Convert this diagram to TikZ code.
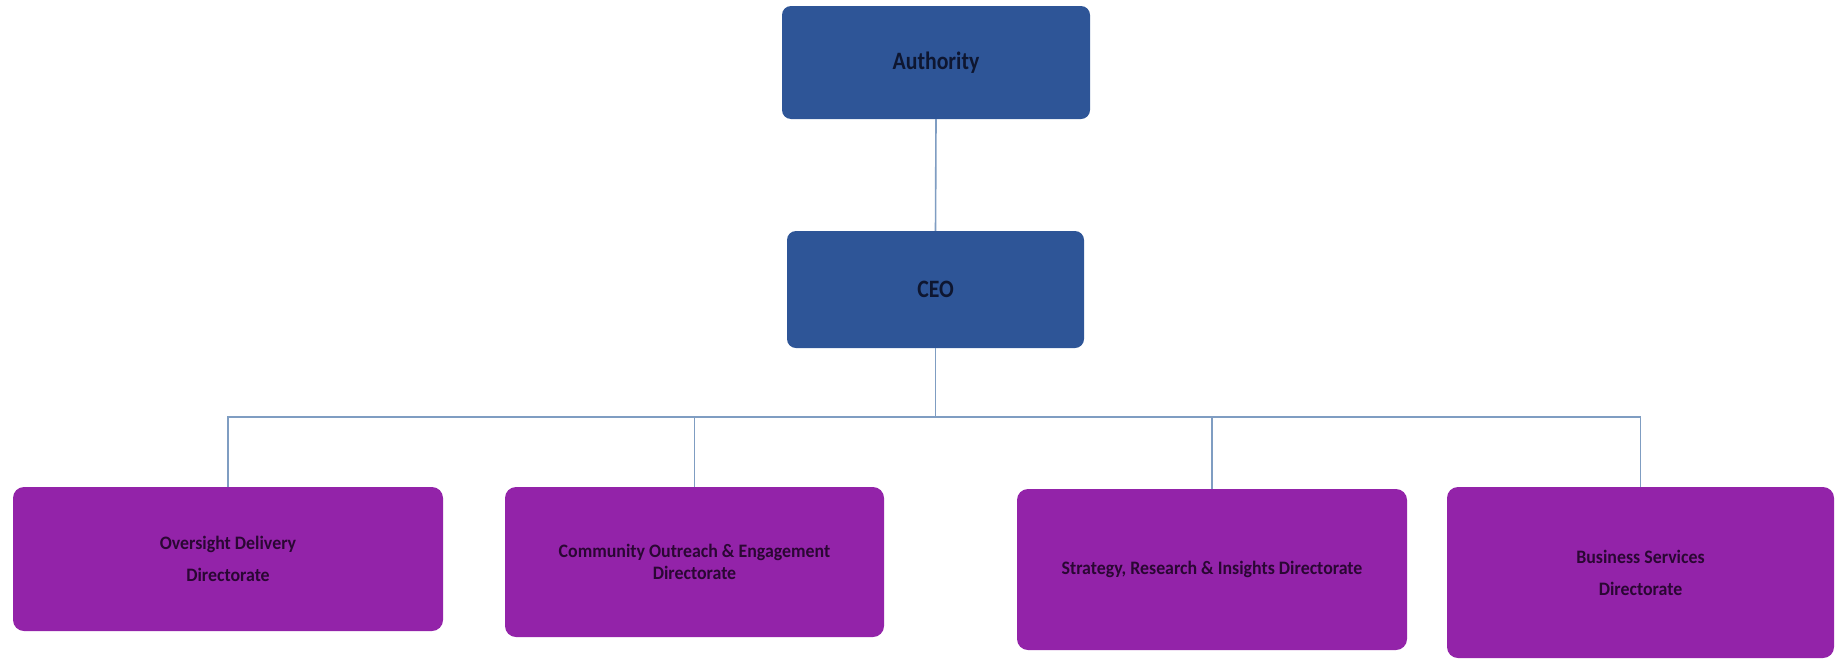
\documentclass[tikz,border=0pt]{standalone}
\usepackage{fontspec}
\setmainfont{Carlito}
\newfontfamily\topfont{Carlito}[FakeStretch=0.87]
\newfontfamily\dirfont{Carlito}[FakeStretch=0.94]
\definecolor{topblue}{HTML}{2E5597}
\definecolor{dirpurple}{HTML}{9323A9}
\definecolor{linkblue}{HTML}{7F9DC2}
\definecolor{toptext}{HTML}{0E1630}
\definecolor{dirtext}{HTML}{2A0733}
\tikzset{
  topbox/.style={fill=topblue, rounded corners=9pt, inner sep=0pt, align=center,
    text=toptext, font=\topfont\fontsize{25}{29}\selectfont\bfseries},
  dirbox/.style={fill=dirpurple, rounded corners=11pt, inner sep=0pt, align=center,
    text=dirtext, font=\dirfont\fontsize{19}{22}\selectfont\bfseries},
  link/.style={draw=linkblue, line width=1.6pt}
}
\begin{document}
\begin{tikzpicture}[x=1pt,y=-1pt]
\useasboundingbox (0,0) rectangle (1838,659);
\node[topbox, minimum width=308pt, minimum height=113pt] (auth) at (936,62.5) {Authority};
\node[topbox, minimum width=297pt, minimum height=117pt] (ceo) at (935.5,289.5) {CEO};
\node[dirbox, minimum width=430pt, minimum height=144pt] (d1) at (228,559) {Oversight Delivery\\[10pt]Directorate};
\node[dirbox, minimum width=379pt, minimum height=150pt] (d2) at (694.5,562) {Community Outreach \& Engagement\\[0pt]Directorate};
\node[dirbox, minimum width=390pt, minimum height=161pt] (d3) at (1212,569.5) {Strategy, Research \& Insights Directorate};
\node[dirbox, minimum width=387pt, minimum height=171pt] (d4) at (1640.5,572.5) {Business Services\\[10pt]Directorate};
\coordinate (j) at (935.5,417);
\draw[link] (auth.south) -- (ceo.north);
\draw[link] (ceo.south) -- (j);
\draw[link] (j) -| (d1.north);
\draw[link] (j) -| (d2.north);
\draw[link] (j) -| (d3.north);
\draw[link] (j) -| (d4.north);
\end{tikzpicture}
\end{document}
